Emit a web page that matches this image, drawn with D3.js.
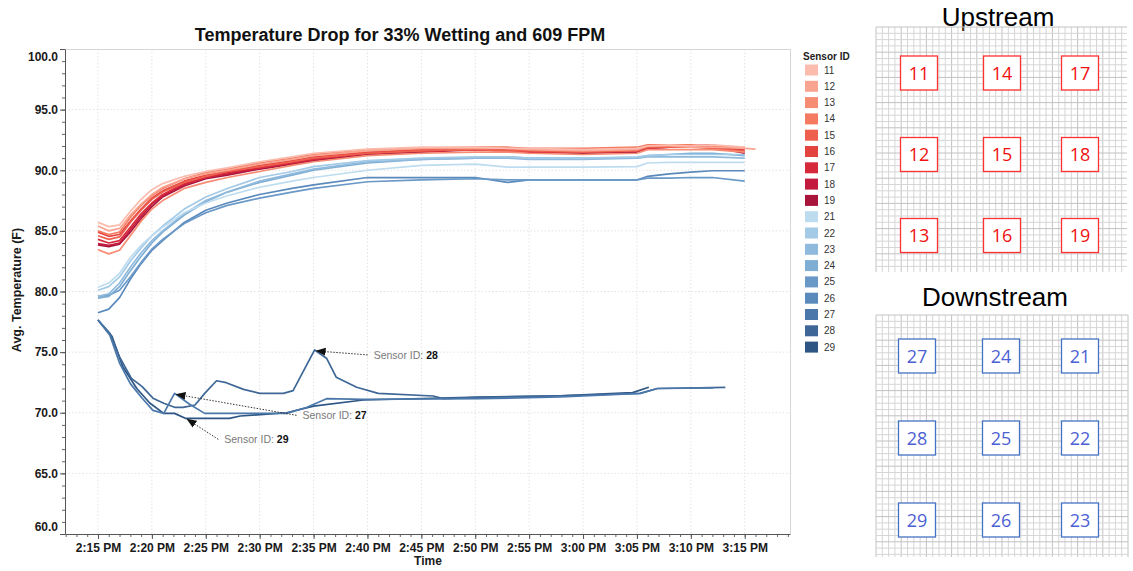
<!DOCTYPE html>
<html>
<head>
<meta charset="utf-8">
<script src="https://cdn.jsdelivr.net/npm/d3@7"></script>
<style>
  body { margin: 0; background: #fff; }
  svg { display: block; font-family: "Liberation Sans", Arial, sans-serif; }
</style>
</head>
<body>
<svg id="chart" width="1133" height="571"></svg>
<script>
// minutes after 2:15 PM for the upper (rising) sensors
const upperTimes = [0, 1, 2, 3, 4, 5, 6, 8, 10, 12, 15, 18, 20, 25, 30, 35, 38, 40, 45, 50, 51, 53, 55, 57, 60, 61];

const s11 = [85.7, 85.35, 85.5, 86.6, 87.6, 88.4, 88.9, 89.5, 89.9, 90.2, 90.7, 91.1, 91.4, 91.75, 91.9, 91.9, 91.8, 91.8, 91.7, 91.8, 92.0, 92.1, 92.0, 92.1, 91.9, null];
const s12 = [85.4, 85.0, 85.2, 86.3, 87.2, 88.0, 88.6, 89.3, 89.7, 90.0, 90.5, 90.9, 91.2, 91.6, 91.8, 91.8, 91.8, 91.7, 91.6, 91.7, 92.0, 92.0, 91.9, 91.9, 91.8, 91.75];
const s13 = [83.45, 83.1, 83.4, 84.6, 85.8, 86.8, 87.5, 88.5, 89.0, 89.4, 89.9, 90.4, 90.7, 91.2, 91.4, 91.5, 91.5, 91.4, 91.3, 91.4, 91.7, 91.7, 91.7, 91.7, 91.5, null];
const s14 = [85.0, 84.7, 84.9, 86.1, 87.1, 87.9, 88.5, 89.3, 89.8, 90.1, 90.6, 91.0, 91.3, 91.7, 91.8, 91.9, 91.9, 91.8, 91.8, 91.9, 92.1, 92.1, 92.1, 92.0, 91.9, null];
const s15 = [84.6, 84.3, 84.5, 85.7, 86.7, 87.6, 88.2, 89.0, 89.5, 89.9, 90.3, 90.7, 91.0, 91.4, 91.6, 91.7, 91.6, 91.6, 91.5, 91.6, 91.9, 91.9, 91.9, 91.8, 91.6, null];
const s16 = [84.9, 84.55, 84.7, 85.8, 86.8, 87.7, 88.3, 89.1, 89.6, 89.9, 90.4, 90.8, 91.1, 91.5, 91.7, 91.8, 91.7, 91.7, 91.6, 91.7, 91.9, 92.0, 92.0, 92.0, 91.8, null];
const s17 = [84.3, 84.0, 84.2, 85.3, 86.4, 87.3, 88.0, 88.9, 89.4, 89.8, 90.2, 90.6, 90.9, 91.4, 91.6, 91.7, 91.6, 91.5, 91.5, 91.6, 91.8, 91.9, 91.9, 91.9, 91.7, null];
const s18 = [83.95, 83.8, 84.0, 85.1, 86.2, 87.2, 87.9, 88.8, 89.4, 89.7, 90.2, 90.6, 90.9, 91.4, 91.7, 91.8, 91.7, 91.6, 91.5, 91.6, 91.9, 92.0, 92.0, 92.1, 91.5, null];
const s19 = [83.85, 83.7, 83.9, 84.9, 86.0, 87.0, 87.8, 88.7, 89.3, 89.6, 90.1, 90.5, 90.8, 91.3, 91.5, 91.7, 91.6, 91.5, 91.4, 91.5, 91.8, 91.9, 91.9, 91.9, 91.4, null];

const s21 = [80.35, 80.7, 81.5, 82.8, 83.8, 84.6, 85.3, 86.5, 87.3, 87.9, 88.6, 89.1, 89.4, 90.0, 90.4, 90.5, 90.25, 90.25, 90.25, 90.3, 90.6, 90.65, 90.65, 90.65, 90.65, null];
const s22 = [80.1, 80.4, 81.2, 82.5, 83.6, 84.6, 85.4, 86.8, 87.8, 88.5, 89.4, 89.9, 90.3, 90.8, 91.0, 91.1, 91.1, 91.0, 91.0, 91.1, 91.2, 91.3, 91.3, 91.3, 91.3, null];
const s23 = [79.6, 79.8, 80.7, 82.0, 83.2, 84.2, 85.0, 86.4, 87.5, 88.2, 89.1, 89.7, 90.1, 90.7, 90.9, 91.0, 91.0, 90.9, 90.9, 91.0, 91.1, 91.1, 91.1, 91.1, 91.0, null];
const s24 = [79.45, 79.6, 80.4, 81.7, 82.9, 84.0, 84.9, 86.3, 87.4, 88.2, 89.0, 89.6, 90.0, 90.6, 90.9, 91.0, 91.1, 91.0, 91.0, 91.0, 91.2, 91.3, 91.4, 91.4, 91.2, null];
const s25 = [79.6, 79.7, 80.1, 81.2, 82.4, 83.5, 84.3, 85.6, 86.5, 87.1, 87.7, 88.2, 88.5, 89.05, 89.2, 89.3, 89.2, 89.2, 89.2, 89.2, 89.35, 89.35, 89.4, 89.4, 89.1, null];
const s26 = [78.25, 78.55, 79.5, 81.0, 82.3, 83.4, 84.2, 85.7, 86.7, 87.3, 88.0, 88.5, 88.8, 89.4, 89.4, 89.4, 89.0, 89.2, 89.2, 89.2, 89.5, 89.7, 89.85, 89.96, 89.96, null];

// the three downstream sensors that drop, each with its own readings
const t27 = [0, 1.1, 2.0, 3.0, 4.1, 5.1, 6.1, 7.1, 8.5, 9.9, 17.5, 19.4, 21.2, 24.6, 35.4, 42.9, 50.3, 51.9, 57.1];
const s27 = [77.65, 76.4, 74.1, 72.4, 71.2, 70.2, 69.95, 71.6, 70.7, 69.95, 69.95, 70.45, 71.16, 71.1, 71.16, 71.3, 71.6, 72.0, 72.05];
const t28 = [0, 1.1, 2.0, 3.1, 4.1, 5.1, 6.1, 7.1, 7.9, 9.0, 9.9, 11.0, 11.9, 13.5, 15.0, 17.2, 18.1, 20.1, 21.2, 22.1, 24.0, 26.0, 31.1, 32.0, 35.4, 42.9, 50.3, 51.9, 58.2];
const s28 = [77.65, 76.55, 74.6, 72.84, 72.15, 71.2, 70.78, 70.45, 70.45, 70.64, 71.6, 72.64, 72.48, 71.93, 71.6, 71.6, 71.82, 75.18, 74.5, 72.93, 72.1, 71.6, 71.38, 71.16, 71.27, 71.4, 71.6, 72.0, 72.1];
const t29 = [0, 1.3, 2.3, 3.6, 4.8, 6.1, 7.1, 8.1, 12.2, 13.2, 17.5, 20.0, 24.6, 35.4, 42.9, 49.6, 51.1];
const s29 = [77.65, 76.3, 73.8, 72.0, 70.8, 69.95, 69.95, 69.54, 69.54, 69.73, 70.0, 70.55, 71.05, 71.3, 71.4, 71.66, 72.1];

const sensorIds = [11, 12, 13, 14, 15, 16, 17, 18, 19, 21, 22, 23, 24, 25, 26, 27, 28, 29];
const sensorColors = ['#fbbcae', '#f9a491', '#f78c74', '#f47a62', '#ee5f4d', '#e4443f', '#d62a3c', '#c21b3d', '#a8143c',
                      '#bddcf0', '#a3cae6', '#90badd', '#7eaed4', '#6a99c7', '#5a8abc', '#4b78aa', '#3e6797', '#2e5684'];

const yTicks = [60, 65, 70, 75, 80, 85, 90, 95, 100];
const upstreamLayout = [[11, 14, 17], [12, 15, 18], [13, 16, 19]];
const downstreamLayout = [[27, 24, 21], [28, 25, 22], [29, 26, 23]];

// annotated sensors: reading index of the point the arrow goes to
const callouts = [
  { id: 28, idx: 17, dx: 57, dy: 4 },
  { id: 27, idx: 7, dx: 126, dy: 21 },
  { id: 29, idx: 7, dx: 37, dy: 20 }
];

const base = new Date(2020, 0, 1, 14, 15, 0);
const at = m => new Date(base.getTime() + m * 60000);

const series = {
  11: s11, 12: s12, 13: s13, 14: s14, 15: s15, 16: s16, 17: s17, 18: s18, 19: s19,
  21: s21, 22: s22, 23: s23, 24: s24, 25: s25, 26: s26
};
const lowTimes = { 27: t27, 28: t28, 29: t29 };
const lowVals = { 27: s27, 28: s28, 29: s29 };

function pointsFor(id) {
  if (lowVals[id]) return lowTimes[id].map((t, i) => ({ t: at(t), v: lowVals[id][i] }));
  return upperTimes.map((t, i) => ({ t: at(t), v: series[id][i] }));
}

const svg = d3.select('#chart');
const plotL = 65, plotR = 790, plotT = 49, plotB = 534;

const x = d3.scaleTime().domain([at(-3.06), at(64.2)]).range([plotL, plotR]);
const y = d3.scaleLinear().domain([60, 100]).range([plotB, plotT]);
const color = d3.scaleOrdinal().domain(sensorIds).range(sensorColors);

// title
svg.append('text')
  .attr('x', 400).attr('y', 41)
  .attr('text-anchor', 'middle')
  .style('font-size', '18px').style('font-weight', 'bold').style('fill', '#111')
  .text('Temperature Drop for 33% Wetting and 609 FPM');

// gridlines
const grid = svg.append('g');
grid.selectAll('.vg')
  .data(x.ticks(d3.timeMinute.every(5)))
  .enter().append('line')
  .attr('x1', d => x(d)).attr('x2', d => x(d))
  .attr('y1', plotT).attr('y2', plotB)
  .attr('stroke', '#e3e3e3').attr('stroke-dasharray', '1.5,2');
grid.selectAll('.hg')
  .data(yTicks.slice(1, -1))
  .enter().append('line')
  .attr('x1', plotL).attr('x2', plotR)
  .attr('y1', d => y(d)).attr('y2', d => y(d))
  .attr('stroke', '#e3e3e3').attr('stroke-dasharray', '1.5,2');

// frame top / right
svg.append('line').attr('x1', plotL).attr('x2', plotR).attr('y1', plotT + 0.5).attr('y2', plotT + 0.5).attr('stroke', '#d6d6d6');
svg.append('line').attr('x1', plotR + 0.5).attr('x2', plotR + 0.5).attr('y1', plotT).attr('y2', plotB).attr('stroke', '#d6d6d6');

// minor ticks
const xMinor = svg.append('g')
  .attr('transform', 'translate(0,' + plotB + ')')
  .call(d3.axisBottom(x).ticks(d3.timeMinute.every(1)).tickSize(3).tickFormat(''));
const yMinor = svg.append('g')
  .attr('transform', 'translate(' + plotL + ',0)')
  .call(d3.axisLeft(y).ticks(40).tickSize(3).tickFormat(''));
[xMinor, yMinor].forEach(g => {
  g.select('.domain').remove();
  g.selectAll('line').attr('stroke', '#666');
});

// axes
const xAxis = svg.append('g')
  .attr('transform', 'translate(0,' + plotB + ')')
  .call(d3.axisBottom(x).ticks(d3.timeMinute.every(5)).tickSize(5).tickPadding(4).tickSizeOuter(0)
    .tickFormat(d3.timeFormat('%-I:%M %p')));
const yAxis = svg.append('g')
  .attr('transform', 'translate(' + plotL + ',0)')
  .call(d3.axisLeft(y).tickValues(yTicks).tickSize(5).tickPadding(2).tickSizeOuter(0)
    .tickFormat(d3.format('.1f')));
[xAxis, yAxis].forEach(g => {
  g.selectAll('line, path').attr('stroke', '#555');
  g.selectAll('text').style('font-size', '12px').style('font-weight', 'bold').style('fill', '#1a1a1a')
    .style('font-family', '"Liberation Sans", Arial, sans-serif');
});
// edge labels are nudged inside the axis, as in the original
yAxis.selectAll('.tick text').attr('dy', d => d === 100 ? '0.95em' : d === 60 ? '-0.3em' : '0.32em');

svg.append('text')
  .attr('transform', 'translate(21,290) rotate(-90)')
  .attr('text-anchor', 'middle')
  .style('font-size', '12.5px').style('font-weight', 'bold').style('fill', '#1a1a1a')
  .text('Avg. Temperature (F)');
svg.append('text')
  .attr('x', 428).attr('y', 565)
  .attr('text-anchor', 'middle')
  .style('font-size', '12px').style('font-weight', 'bold').style('fill', '#1a1a1a')
  .text('Time');

// lines: blues first, reds on top
const line = d3.line()
  .defined(d => d.v != null)
  .x(d => x(d.t))
  .y(d => y(d.v));

const drawOrder = sensorIds.slice(9).reverse().concat(sensorIds.slice(0, 9).reverse());
svg.append('g').selectAll('path')
  .data(drawOrder)
  .enter().append('path')
  .attr('d', id => line(pointsFor(id)))
  .attr('fill', 'none')
  .attr('stroke', id => color(id))
  .attr('stroke-width', 1.7)
  .attr('stroke-linejoin', 'round');

// callouts
svg.append('defs').append('marker')
  .attr('id', 'arrow')
  .attr('viewBox', '0 -5 10 10')
  .attr('refX', 9).attr('refY', 0)
  .attr('markerWidth', 10).attr('markerHeight', 10)
  .attr('markerUnits', 'userSpaceOnUse')
  .attr('orient', 'auto')
  .append('path').attr('d', 'M0,-4L10,0L0,4Z').attr('fill', '#111');

callouts.forEach(c => {
  const p = pointsFor(c.id)[c.idx];
  const px = x(p.t) + 2, py = y(p.v) + 1;
  const tx = px + c.dx, ty = py + c.dy;
  svg.append('line')
    .attr('x1', tx - 6).attr('y1', ty)
    .attr('x2', px).attr('y2', py)
    .attr('stroke', '#333').attr('stroke-width', 1)
    .attr('stroke-dasharray', '1.5,1.5')
    .attr('marker-end', 'url(#arrow)');
  const t = svg.append('text')
    .attr('x', tx).attr('y', ty + 4)
    .style('font-size', '10.5px');
  t.append('tspan').style('fill', '#7a7a7a').text('Sensor ID: ');
  t.append('tspan').style('fill', '#111').style('font-weight', 'bold').text(c.id);
});

// legend
const legend = svg.append('g');
legend.append('text')
  .attr('x', 803).attr('y', 60)
  .style('font-size', '10px').style('font-weight', 'bold').style('fill', '#222')
  .text('Sensor ID');
const rows = legend.selectAll('.row')
  .data(sensorIds)
  .enter().append('g')
  .attr('transform', (d, i) => 'translate(805,' + (70 + i * 16.3) + ')');
rows.append('rect')
  .attr('x', 0).attr('y', -5.5).attr('width', 13).attr('height', 11)
  .attr('fill', d => color(d));
rows.append('text')
  .attr('x', 19).attr('y', 3.5)
  .style('font-size', '10px').style('fill', '#333')
  .text(d => d);

// sensor layout panels
function panel(title, layout, gx, gy, gw, gh, titleX, titleY, colX, rowY, stroke, textColor) {
  const g = svg.append('g');
  g.append('text')
    .attr('x', titleX).attr('y', titleY)
    .attr('text-anchor', 'middle')
    .style('font-size', '26px').style('fill', '#000')
    .text(title);
  const step = 6.3;
  const nx = Math.floor(gw / step), ny = Math.floor(gh / step);
  g.selectAll('.gv').data(d3.range(nx + 1)).enter().append('line')
    .attr('x1', i => gx + i * step).attr('x2', i => gx + i * step)
    .attr('y1', gy).attr('y2', gy + gh)
    .attr('stroke', i => i % 4 === 0 ? '#c2c2c2' : '#d6d6d6').attr('stroke-width', 1);
  g.selectAll('.gh').data(d3.range(ny + 1)).enter().append('line')
    .attr('x1', gx).attr('x2', gx + gw)
    .attr('y1', i => gy + i * step).attr('y2', i => gy + i * step)
    .attr('stroke', i => i % 4 === 0 ? '#c2c2c2' : '#d6d6d6').attr('stroke-width', 1);
  layout.forEach((row, r) => row.forEach((id, c) => {
    const cx = colX[c], cy = rowY[r];
    g.append('rect')
      .attr('x', cx - 18.5).attr('y', cy - 17)
      .attr('width', 37).attr('height', 34)
      .attr('fill', '#fff').attr('stroke', stroke).attr('stroke-width', 1.3);
    g.append('text')
      .attr('x', cx).attr('y', cy + 6.5)
      .attr('text-anchor', 'middle')
      .style('font-size', '18px').style('fill', textColor)
      .style('font-family', '"Open Sans", "Liberation Sans", sans-serif')
      .text(id);
  }));
}

panel('Upstream', upstreamLayout, 876, 27, 251, 245, 998, 26,
  [919, 1002, 1080], [73, 154.5, 235.5], '#ff3030', '#f01010');
panel('Downstream', downstreamLayout, 876, 315, 252, 242, 995, 306,
  [917, 1001, 1080], [356, 438, 520], '#4472c4', '#4d5fd4');
</script>
</body>
</html>
